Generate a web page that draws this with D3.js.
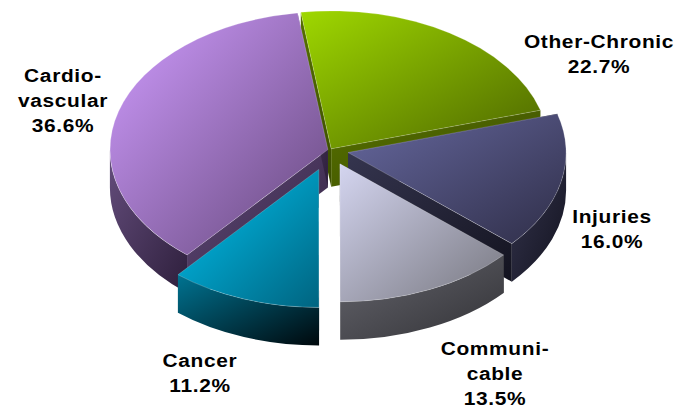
<!DOCTYPE html>
<html lang="en">
<head>
<meta charset="utf-8">
<title>Pie</title>
<script src="https://d3js.org/d3.v7.min.js"></script>
<style>
  body { margin: 0; background: #fff; }
  text { font-family: "Liberation Sans", Arial, sans-serif; font-weight: bold; font-size: 19px; letter-spacing: 0.6px; fill: #000; }
</style>
</head>
<body>
<script>
// data, clockwise from just left of 12 o'clock
var categories = ["Other-Chronic", "Injuries", "Communicable", "Cancer", "Cardiovascular"];
var values = [22.7, 16.0, 13.5, 11.2, 36.6];
var labelLines = [["Other-Chronic"], ["Injuries"], ["Communi-", "cable"], ["Cancer"], ["Cardio-", "vascular"]];

// styles per slice
var topLight = ["#9fd800", "#66689f", "#d4d5f0", "#00c4f2", "#d09cff"];
var topDark = ["#4d6600", "#2f2e48", "#77777f", "#006480", "#64477a"];
var sideLight = ["#567000", "#35354f", "#66666e", "#007391", "#644d7c"];
var sideDark = ["#3c4e00", "#13131f", "#323236", "#00080c", "#2e1f3c"];
var explode = [0.01, 0.085, 0.11, 0.15, 0.01];
var labelX = [599, 612, 495, 200, 63];
var labelY = [48, 223, 355, 367, 82];

var w = 686, h = 409;
var cx = 330, cy = 150, rx = 218, ry = 138, depth = 38;
var startDeg = -8;
var lineH = 25;
var textStretch = 1.1;
var dz = depth / ry; // depth in unit circle space

var svg = d3.select("body").append("svg").attr("width", w).attr("height", h);
var defs = svg.append("defs");

function addGrad(id, c0, c1) {
  var g = defs.append("linearGradient").attr("id", id)
    .attr("x1", 0).attr("y1", 0).attr("x2", 1).attr("y2", 1);
  g.append("stop").attr("offset", "0%").attr("stop-color", c0);
  g.append("stop").attr("offset", "100%").attr("stop-color", c1);
}
values.forEach(function(v, i) {
  addGrad("top" + i, topLight[i], topDark[i]);
  addGrad("side" + i, sideLight[i], sideDark[i]);
});

var start = startDeg * Math.PI / 180;
var pie = d3.pie().sort(null).startAngle(start).endAngle(start + 2 * Math.PI);
var arcs = pie(values);
var arc = d3.arc().innerRadius(0).outerRadius(1);

// radial side wall at angle t (d3 angle, 0 = up)
function wall(t) {
  var x = Math.sin(t), y = -Math.cos(t);
  var p = d3.path();
  p.moveTo(0, 0); p.lineTo(x, y); p.lineTo(x, y + dz); p.lineTo(0, dz); p.closePath();
  return p.toString();
}
// outer rim, only the part facing the viewer
function rim(a0, a1) {
  var lo = Math.max(a0, Math.PI / 2), hi = Math.min(a1, 3 * Math.PI / 2);
  if (hi <= lo) return null;
  var p = d3.path();
  p.arc(0, 0, 1, lo - Math.PI / 2, hi - Math.PI / 2);
  p.arc(0, dz, 1, hi - Math.PI / 2, lo - Math.PI / 2, true);
  p.closePath();
  return p.toString();
}

// back to front
var order = [0, 4, 1, 3, 2];
order.forEach(function(i) {
  var d = arcs[i];
  var mid = (d.startAngle + d.endAngle) / 2;
  var ox = cx + explode[i] * rx * Math.sin(mid);
  var oy = cy - explode[i] * ry * Math.cos(mid);
  var g = svg.append("g").attr("class", "slice")
    .attr("transform", "translate(" + ox + "," + oy + ") scale(" + rx + "," + ry + ")");
  g.append("path").attr("d", wall(d.startAngle)).attr("fill", "url(#side" + i + ")");
  g.append("path").attr("d", wall(d.endAngle)).attr("fill", "url(#side" + i + ")");
  var r = rim(d.startAngle, d.endAngle);
  if (r) g.append("path").attr("d", r).attr("fill", "url(#side" + i + ")");
  g.append("path").attr("d", arc(d)).attr("fill", "url(#top" + i + ")")
    .attr("stroke", "#fff").attr("stroke-opacity", 0.3).attr("stroke-width", 0.7)
    .attr("vector-effect", "non-scaling-stroke");
});

// labels, widened a little like the original
values.forEach(function(v, i) {
  var lines = labelLines[i].concat([v.toFixed(1) + "%"]);
  lines.forEach(function(s, k) {
    svg.append("text").attr("text-anchor", "middle")
      .attr("transform", "translate(" + labelX[i] + "," + (labelY[i] + k * lineH) + ") scale(" + textStretch + ",1)")
      .text(s);
  });
});
</script>
</body>
</html>
